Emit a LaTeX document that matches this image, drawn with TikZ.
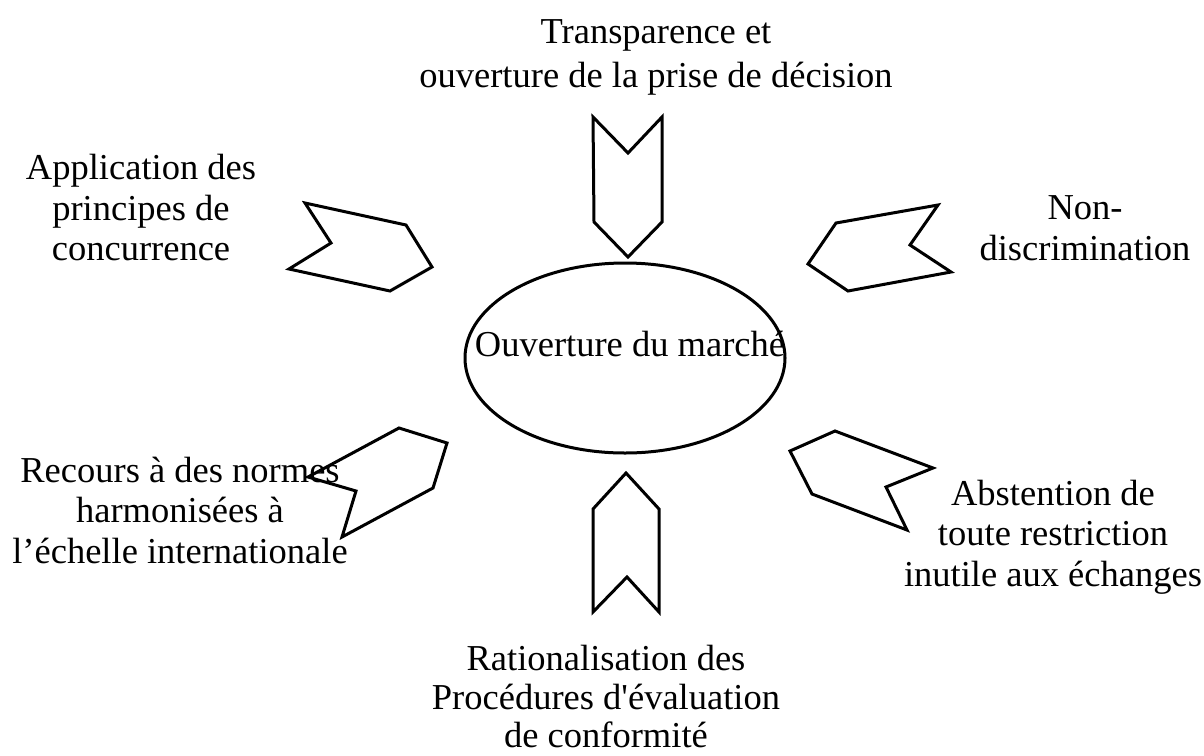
\documentclass[tikz,border=0pt]{standalone}
\usepackage{fontspec}
\setmainfont{Liberation Serif}
\usetikzlibrary{shapes.geometric}
\tikzset{
  lbl/.style={align=center, inner sep=0pt, font=\fontsize{36.5}{40.5}\selectfont},
  chev/.style={draw=black, line width=3pt, line join=miter, fill=white},
  oval/.style={ellipse, draw=black, line width=3pt, minimum width=320pt, minimum height=190pt, inner sep=0pt}
}
\begin{document}
\begin{tikzpicture}[x=1pt,y=-1pt]
\useasboundingbox (0,0) rectangle (1204,755);
% centre ellipse
\node[oval] (c) at (625,358) {};
\node[lbl] (ct) at (630,344) {Ouverture du marché};
% chevrons
\draw[chev] (305,203) -- (406,225) -- (432,267) -- (390,291) -- (289,269) -- (331,243) -- cycle;
\draw[chev] (593,117) -- (628,153) -- (662,117) -- (662,222) -- (628,257) -- (594,222) -- cycle;
\draw[chev] (938,205) -- (910,245) -- (951,272) -- (848,291) -- (808,264) -- (836,223) -- cycle;
\draw[chev] (399,428) -- (447,443) -- (433,488) -- (342,537) -- (356,491) -- (308,477) -- cycle;
\draw[chev] (835,431) -- (933,468) -- (886,487) -- (907,530) -- (812,494) -- (790,451) -- cycle;
\draw[chev] (626,473) -- (659,509) -- (659,612) -- (627,577) -- (593,612) -- (593,509) -- cycle;
% labels
\node[lbl, font=\fontsize{36.5}{44}\selectfont] (t) at (656,57) {Transparence et\\ouverture de la prise de décision};
\node[lbl] (tl) at (141,208) {Application des\\principes de\\concurrence};
\node[lbl] (tr) at (1085,228) {Non-\\discrimination};
\node[lbl] (bl) at (180,510) {Recours à des normes\\harmonisées à\\l’échelle internationale};
\node[lbl] (br) at (1053,537) {Abstention de\\toute restriction\\inutile aux échanges};
\node[lbl, font=\fontsize{36.5}{38.5}\selectfont] (b) at (606,697) {Rationalisation des\\Procédures d\textquotesingle évaluation\\de conformité};
\end{tikzpicture}
\end{document}
